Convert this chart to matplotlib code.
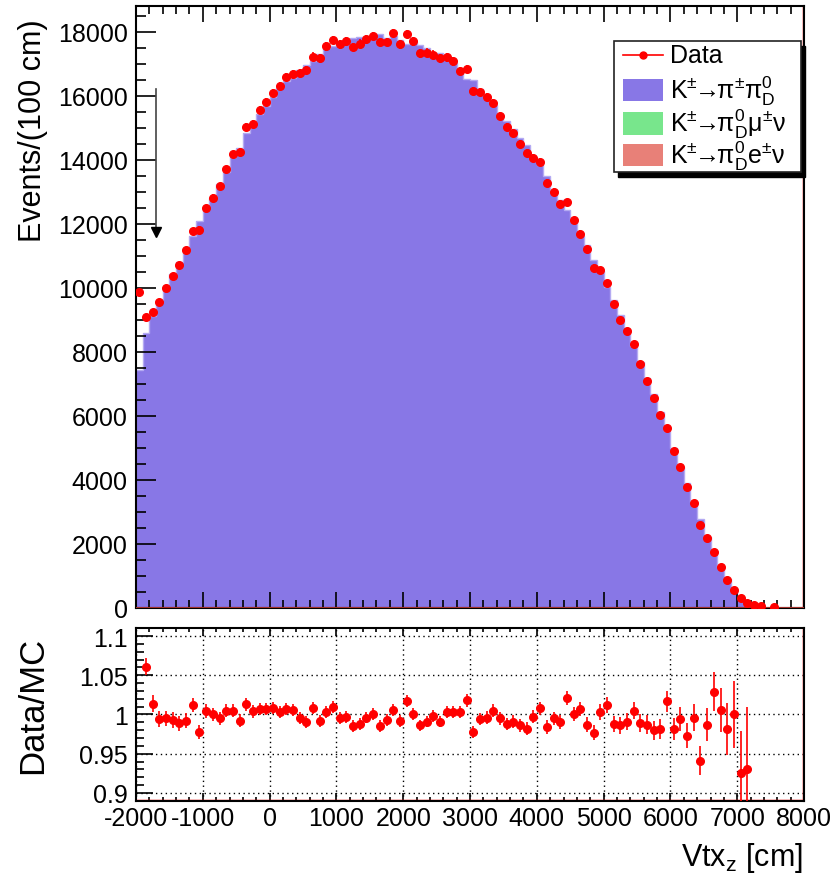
import numpy as np
import matplotlib
matplotlib.use('Agg')
import matplotlib.pyplot as plt
from matplotlib.patches import Rectangle
from matplotlib.lines import Line2D
from matplotlib.ticker import MultipleLocator, FormatStrFormatter

plt.rcParams['font.family'] = ['Liberation Sans', 'DejaVu Sans']
plt.rcParams['mathtext.fontset'] = 'custom'
plt.rcParams['mathtext.rm'] = 'Liberation Sans'
plt.rcParams['mathtext.it'] = 'Liberation Sans:italic'
plt.rcParams['mathtext.sf'] = 'Liberation Sans'
plt.rcParams['axes.unicode_minus'] = False

# Binning: 100 bins of 100 cm between -2000 and 8000
x_lo, x_hi, n_bins = -2000, 8000, 100
edges = np.linspace(x_lo, x_hi, n_bins + 1)
centers = 0.5 * (edges[:-1] + edges[1:])

# Data counts per bin
data = np.array([
    9850, 9090, 9240, 9550, 9980, 10360, 10690, 11160, 11760, 11810,
    12480, 12810, 13160, 13690, 14160, 14240, 15010, 15100, 15540, 15790,
    16080, 16290, 16570, 16660, 16710, 16800, 17220, 17160, 17540, 17740,
    17600, 17690, 17520, 17620, 17760, 17860, 17670, 17680, 17960, 17600,
    17920, 17690, 17320, 17340, 17280, 17160, 17190, 17070, 16760, 16820,
    16130, 16120, 15960, 15780, 15350, 15020, 14820, 14480, 14210, 14050,
    13930, 13270, 12990, 12610, 12670, 12110, 11680, 11190, 10620, 10540,
    10140, 9490, 9000, 8640, 8230, 7600, 7080, 6550, 6010, 5620,
    4900, 4380, 3780, 3270, 2590, 2170, 1740, 1260, 870, 556,
    297, 141, 78, 38, 0, 3, 0, 0, 0, 0,
], dtype=float)

# Data/MC ratio per bin (nan = empty MC bin)
ratio = np.array([
    1.326, 1.061, 1.014, 0.994, 0.995, 0.993, 0.989, 0.992, 1.012, 0.978,
    1.005, 1.000, 0.995, 1.005, 1.005, 0.992, 1.013, 1.004, 1.007, 1.007,
    1.008, 1.003, 1.007, 1.006, 0.995, 0.990, 1.008, 0.992, 1.003, 1.010,
    0.996, 0.997, 0.985, 0.988, 0.996, 1.001, 0.985, 0.993, 1.006, 0.992,
    1.017, 1.001, 0.986, 0.991, 0.998, 0.991, 1.003, 1.003, 1.003, 1.018,
    0.978, 0.994, 0.996, 1.005, 0.995, 0.988, 0.991, 0.986, 0.982, 0.997,
    1.008, 0.984, 0.995, 0.990, 1.021, 1.001, 1.007, 0.987, 0.977, 1.003,
    1.012, 0.988, 0.986, 0.991, 1.005, 0.989, 0.987, 0.980, 0.982, 1.017,
    0.981, 0.994, 0.973, 0.996, 0.941, 0.987, 1.029, 1.006, 0.981, 1.000,
    0.925, 0.931, np.nan, np.nan, np.nan, np.nan, np.nan, np.nan, np.nan, np.nan,
])

# MC components: K -> pi pi0_D dominates, semileptonic ones are ~empty
k2pi = np.where(np.isnan(ratio), 0.0, data / np.where(np.isnan(ratio), 1.0, ratio))
kmu3 = np.zeros(n_bins)
ke3 = np.zeros(n_bins)

col_k2pi = '#8877e6'
col_kmu3 = '#78e68c'
col_ke3 = '#e88078'

fig = plt.figure(figsize=(8.37, 8.78), dpi=100)
ax1 = fig.add_axes([0.1625, 0.3069, 0.7981, 0.6848])
ax2 = fig.add_axes([0.1625, 0.0869, 0.7981, 0.1964])

# ---- upper panel: stacked MC + data
ax1.stairs(ke3, edges, baseline=0, fill=True, color=col_ke3, zorder=1)
ax1.stairs(ke3 + kmu3, edges, baseline=ke3, fill=True, color=col_kmu3, zorder=1)
ax1.stairs(ke3 + kmu3 + k2pi, edges, baseline=ke3 + kmu3, fill=True,
           facecolor=col_k2pi, edgecolor=col_k2pi, zorder=1)
ax1.stairs(ke3 + kmu3 + k2pi, edges, baseline=None, color='#b4aaf2', lw=1.0, zorder=1.1)
ax1.stairs(kmu3 + ke3, edges, baseline=None, color='#7fd996', lw=1.0, zorder=2.6)
ax1.stairs(ke3, edges, baseline=None, color='#a0302a', lw=1.5, zorder=2.7)

m = data > 0
ax1.errorbar(centers[m], data[m], yerr=np.sqrt(data[m]), fmt='o', color='red',
             ms=5.5, elinewidth=1.2, capsize=0, zorder=3)

# cut arrow
ax1.plot([-1700, -1700], [16200, 11700], color='#444444', lw=1.2, zorder=3)
ax1.plot([-1700], [11750], marker='v', color='black', ms=7, zorder=3)

ax1.axvline(x_hi, color='red', lw=2.5, zorder=2)

ax1.set_xlim(x_lo, x_hi)
ax1.set_ylim(0, 18790)
ax1.xaxis.set_major_locator(MultipleLocator(1000))
ax1.xaxis.set_minor_locator(MultipleLocator(200))
ax1.yaxis.set_major_locator(MultipleLocator(2000))
ax1.yaxis.set_minor_locator(MultipleLocator(500))
ax1.tick_params(axis='x', which='major', direction='in', length=11.5, width=1.2,
                top=True, bottom=True, labelbottom=False)
ax1.tick_params(axis='x', which='minor', direction='in', length=5.8, width=1.2,
                top=True, bottom=True)
ax1.tick_params(axis='y', which='major', direction='in', length=14.4, width=1.2,
                right=False, labelsize=18, pad=6)
ax1.tick_params(axis='y', which='minor', direction='in', length=7.2, width=1.2, right=False)
for s in ax1.spines.values():
    s.set_linewidth(1.5)
    s.set_zorder(2.5)

# legend drawn by hand (ROOT style box with black shadow)
lx0, lx1, ly0, ly1 = 0.7156, 0.9955, 0.7244, 0.9423
ax1.add_patch(Rectangle((lx0 + 0.006, ly0 - 0.0083), lx1 - lx0, ly1 - ly0,
                        transform=ax1.transAxes, facecolor='black', edgecolor='black',
                        clip_on=False, zorder=5))
ax1.add_patch(Rectangle((lx0, ly0), lx1 - lx0, ly1 - ly0, transform=ax1.transAxes,
                        facecolor='white', edgecolor='#222222', lw=1.2,
                        clip_on=False, zorder=6))
sx0, sx1, tx = 0.7295, 0.7889, 0.7994
ax1.add_line(Line2D([sx0, sx1], [0.9195, 0.9195], transform=ax1.transAxes,
                    color='red', lw=1.2, zorder=7))
ax1.add_line(Line2D([(sx0 + sx1) / 2], [0.9195], transform=ax1.transAxes,
                    marker='o', ms=5, color='red', zorder=7))
ax1.text(tx, 0.9195, 'Data', transform=ax1.transAxes, fontsize=18, va='center', zorder=7)
entries = [
    (0.8603, col_k2pi, r'$\mathrm{K^{\pm}\!\!\rightarrow\!\!\pi^{\pm}\pi^{0}_{D}}$'),
    (0.8050, col_kmu3, r'$\mathrm{K^{\pm}\!\!\rightarrow\!\!\pi^{0}_{D}\mu^{\pm}\nu}$'),
    (0.7527, col_ke3, r'$\mathrm{K^{\pm}\!\!\rightarrow\!\!\pi^{0}_{D}e^{\pm}\nu}$'),
]
for yc, c, lab in entries:
    ax1.add_patch(Rectangle((sx0, yc - 0.0185), sx1 - sx0, 0.037, transform=ax1.transAxes,
                            facecolor=c, edgecolor='none', zorder=7))
    ax1.text(tx, yc, lab, transform=ax1.transAxes, fontsize=18, va='center', zorder=7)

# ---- lower panel: ratio
ax2.errorbar(centers, ratio, yerr=ratio / np.sqrt(np.where(data > 0, data, 1)), fmt='o',
             color='red', ms=5.5, elinewidth=1.2, capsize=0, zorder=3)
ax2.axvline(x_hi, color='red', lw=2.5, zorder=2)
ax2.axhline(0.89, color='red', lw=2.5, zorder=2)
ax2.set_xlim(x_lo, x_hi)
ax2.set_ylim(0.89, 1.11)
ax2.xaxis.set_major_locator(MultipleLocator(1000))
ax2.xaxis.set_minor_locator(MultipleLocator(200))
ax2.yaxis.set_major_locator(MultipleLocator(0.05))
ax2.yaxis.set_minor_locator(MultipleLocator(0.01))
ax2.yaxis.set_major_formatter(FormatStrFormatter('%g'))
ax2.grid(True, which='major', color='black', linestyle=(0, (1, 2.5)), lw=1.0)
ax2.tick_params(axis='x', which='major', direction='in', length=6, width=1.2,
                top=True, bottom=True, labelsize=18, pad=4)
ax2.tick_params(axis='x', which='minor', direction='in', length=3, width=1.2,
                top=True, bottom=True)
ax2.tick_params(axis='y', which='major', direction='in', length=12, width=1.2,
                right=False, labelsize=18, pad=6)
ax2.tick_params(axis='y', which='minor', direction='in', length=6, width=1.2, right=False)
for s in ax2.spines.values():
    s.set_linewidth(1.5)
    s.set_zorder(2.5)

fig.text(0.0394, 0.978, 'Events/(100 cm)', rotation=90, fontsize=22, va='top', ha='center')
fig.text(0.0394, 0.2745, 'Data/MC', rotation=90, fontsize=25, va='top', ha='center')
fig.text(0.9594, 0.0228, r'Vtx$_{\mathrm{z}}$ [cm]', fontsize=22, va='center', ha='right')

fig.savefig('out.png', dpi=100)
